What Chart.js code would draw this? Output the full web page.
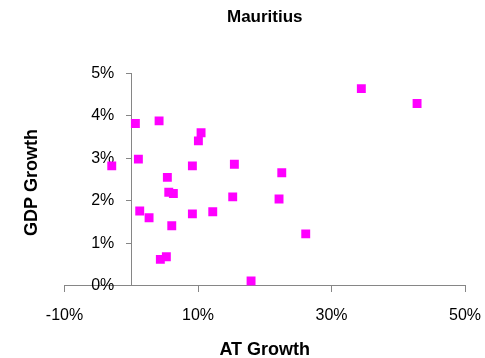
<!DOCTYPE html>
<html>
<head>
<meta charset="utf-8">
<script src="https://cdn.jsdelivr.net/npm/chart.js@4/dist/chart.umd.min.js"></script>
<style>
html,body{margin:0;padding:0;background:#fff;}
canvas{display:block;}
</style>
</head>
<body>
<canvas id="c" width="485" height="358"></canvas>
<script>
// Data (values in percent)
const chartTitle = 'Mauritius';
const xAxisTitle = 'AT Growth';
const yAxisTitle = 'GDP Growth';
const atGrowth = [0.62, 4.17, 1.07, -2.92, 10.46, 10.06, 9.16, 5.41, 5.62, 6.31, 1.27, 2.67, 6.07, 9.16, 12.21, 15.45, 15.2, 4.36, 5.26, 17.95, 34.47, 42.82, 22.55, 22.14, 26.14];
const gdpGrowth = [3.82, 3.88, 2.98, 2.82, 3.60, 3.41, 2.82, 2.55, 2.20, 2.17, 1.76, 1.60, 1.41, 1.69, 1.74, 2.86, 2.09, 0.62, 0.68, 0.11, 4.64, 4.29, 2.66, 2.04, 1.22];
const xTicks = [-10, 10, 30, 50];
const yTicks = [0, 1, 2, 3, 4, 5];

const FONT = "'Liberation Sans', Arial, sans-serif";
const AXIS = '#868686';

// Axes cross at 0; move tick labels away from the crossing axis lines
const labelOffsetPlugin = {
  id: 'labelOffset',
  beforeDraw(chart) {
    const sx = chart.scales.x, sy = chart.scales.y;
    const xi = sx.getLabelItems();
    if (!xi._shifted) { xi.forEach(it => { it.options.translation[1] += 14; }); xi._shifted = true; }
    const yi = sy.getLabelItems();
    if (!yi._shifted) { yi.forEach(it => { it.options.translation[0] -= 17; }); yi._shifted = true; }
  }
};

const axisTitlePlugin = {
  id: 'axisTitles',
  afterDraw(chart) {
    const ctx = chart.ctx;
    const ca = chart.chartArea;
    ctx.save();
    ctx.fillStyle = '#000';
    ctx.font = 'bold 18px ' + FONT;
    ctx.textAlign = 'center';
    ctx.textBaseline = 'alphabetic';
    ctx.fillText(xAxisTitle, (ca.left + ca.right) / 2, 355);
    ctx.translate(36.5, (ca.top + ca.bottom) / 2 + 3);
    ctx.rotate(-Math.PI / 2);
    ctx.fillText(yAxisTitle, 0, 0);
    ctx.restore();
  }
};

new Chart(document.getElementById('c'), {
  type: 'scatter',
  data: {
    datasets: [{
      data: atGrowth.map((x, i) => ({ x: x, y: gdpGrowth[i] })),
      backgroundColor: '#FF00FF',
      borderColor: '#FF00FF',
      borderWidth: 0,
      pointStyle: 'rect',
      pointRadius: 6.3,
      pointHoverRadius: 6.3
    }]
  },
  options: {
    responsive: false,
    animation: false,
    events: [],
    devicePixelRatio: 1,
    layout: { padding: { left: 64.5, right: 20, top: 0, bottom: 72.3 } },
    plugins: {
      legend: { display: false },
      tooltip: { enabled: false },
      title: {
        display: true,
        text: chartTitle,
        color: '#000',
        font: { family: FONT, size: 17, weight: 'bold' },
        padding: { top: 7.6, bottom: 45.3 }
      }
    },
    scales: {
      x: {
        type: 'linear',
        position: { y: 0 },
        min: xTicks[0],
        max: xTicks[xTicks.length - 1],
        afterBuildTicks: s => { s.ticks = xTicks.map(v => ({ value: v })); },
        ticks: { callback: v => v + '%', color: '#000', font: { family: FONT, size: 16 }, padding: 0, maxRotation: 0, autoSkip: false },
        grid: { drawOnChartArea: false, tickLength: 6, color: AXIS, lineWidth: 1 },
        border: { color: AXIS, width: 1 }
      },
      y: {
        type: 'linear',
        position: { x: 0 },
        min: yTicks[0],
        max: yTicks[yTicks.length - 1],
        afterBuildTicks: s => { s.ticks = yTicks.map(v => ({ value: v })); },
        ticks: { callback: v => v + '%', color: '#000', font: { family: FONT, size: 16 }, padding: 0, autoSkip: false },
        grid: { drawOnChartArea: false, tickLength: 5, color: AXIS, lineWidth: 1 },
        border: { color: AXIS, width: 1 }
      }
    }
  },
  plugins: [labelOffsetPlugin, axisTitlePlugin]
});
</script>
</body>
</html>
